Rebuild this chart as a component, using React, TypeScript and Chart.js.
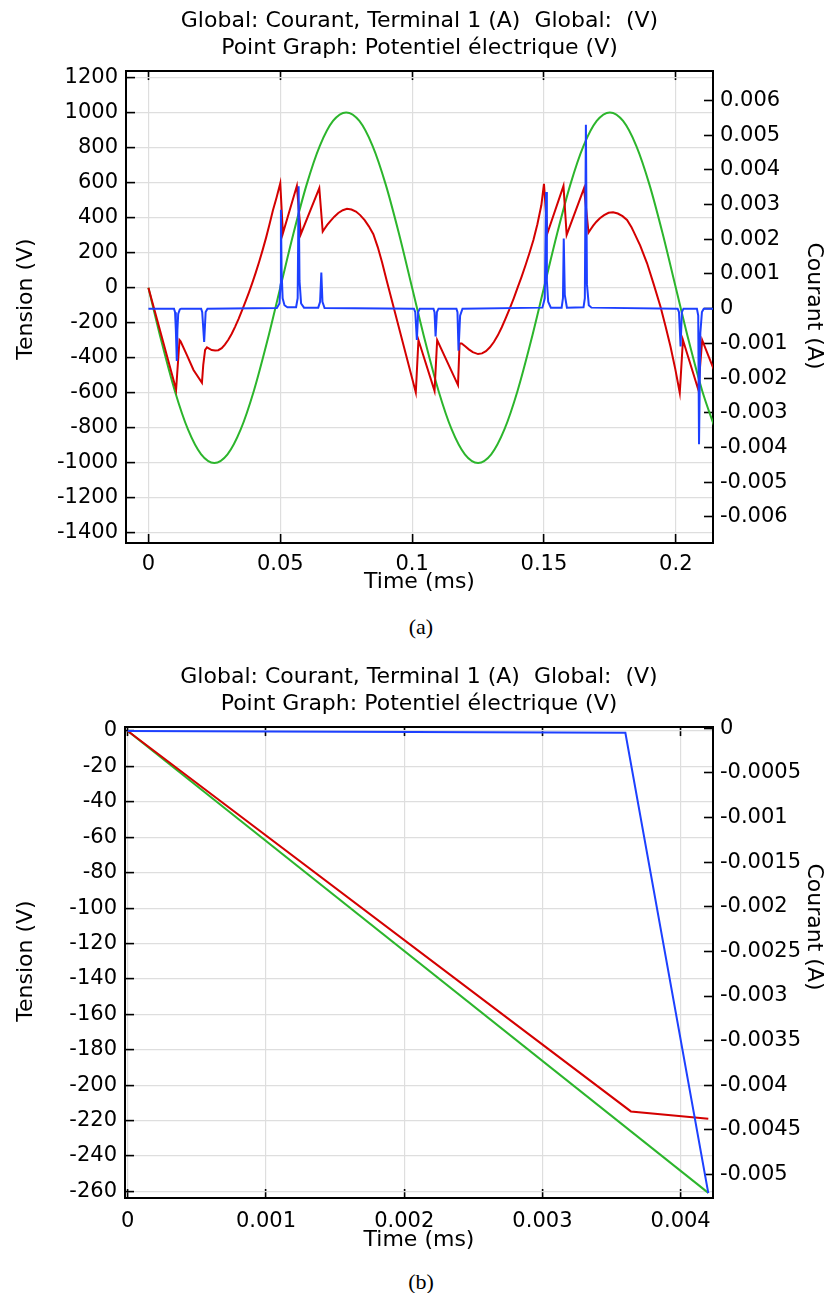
import React, { useEffect, useRef } from "react";
import { Chart, registerables } from "chart.js";

Chart.register(...registerables);

const FONT = "'DejaVu Sans', sans-serif";
const RED = "#d40000";
const GREEN = "#2cb52c";
const BLUE = "#1d40ff";
const GRID = "#dedede";

const TITLE_LINES = [
  "Global: Courant, Terminal 1 (A)  Global:  (V)",
  "Point Graph: Potentiel électrique (V)",
];
const X_TITLE = "Time (ms)";
const Y_LEFT_TITLE = "Tension (V)";
const Y_RIGHT_TITLE = "Courant (A)";

// ---------- Chart (a) ----------
const aGreenT = [
  0, 0.005, 0.01, 0.015, 0.02, 0.025, 0.03, 0.035, 0.04, 0.045, 0.05, 0.055, 0.06, 0.065, 0.07, 0.075,
  0.08, 0.085, 0.09, 0.095, 0.1, 0.105, 0.11, 0.115, 0.12, 0.125, 0.13, 0.135, 0.14, 0.145, 0.15, 0.155,
  0.16, 0.165, 0.17, 0.175, 0.18, 0.185, 0.19, 0.195, 0.2, 0.205, 0.21, 0.215,
];
const aGreenV = [
  0, -309, -588, -809, -951, -1000, -951, -809, -588, -309, 0, 309, 588, 809, 951, 1000,
  951, 809, 588, 309, 0, -309, -588, -809, -951, -1000, -951, -809, -588, -309, 0, 309,
  588, 809, 951, 1000, 951, 809, 588, 309, 0, -309, -588, -809,
];

const aRedT = [
  0, 0.0105, 0.0118, 0.0122, 0.0146, 0.0171, 0.0203, 0.0208, 0.0215, 0.0222, 0.024, 0.0253,
  0.0265, 0.0278, 0.029, 0.0303, 0.0316, 0.0329, 0.0342, 0.0355, 0.0368, 0.0381, 0.0394, 0.0407,
  0.042, 0.0433, 0.0446, 0.0459, 0.0472, 0.0486, 0.05,
  0.051, 0.0563, 0.0578, 0.0648, 0.0661,
  0.0668, 0.0678, 0.069, 0.0705, 0.072, 0.0737, 0.0753, 0.077, 0.0787, 0.0803, 0.082, 0.0836,
  0.0853, 0.087, 0.0886, 0.0903,
  0.1014, 0.1024, 0.1085, 0.1095, 0.1174, 0.118, 0.1188, 0.12, 0.1215, 0.123, 0.125,
  0.1265, 0.128, 0.1295, 0.131, 0.1325, 0.134, 0.1355, 0.137, 0.1385, 0.14, 0.1415, 0.143,
  0.1445, 0.146, 0.1475, 0.149, 0.15,
  0.1513, 0.1574, 0.1586, 0.1652, 0.1669,
  0.1676, 0.1686, 0.1698, 0.1712, 0.1728, 0.1745, 0.1762, 0.178, 0.1798, 0.1815, 0.1832, 0.184,
  0.1865, 0.1891, 0.1916, 0.1942, 0.1961, 0.198, 0.1998, 0.2015,
  0.2027, 0.2085, 0.21, 0.2144,
];
const aRedV = [
  0, -581, -299, -306, -385, -470, -543, -440, -355, -341, -356, -358,
  -357, -345, -325, -297, -263, -222, -178, -130, -80, -28, 27, 86,
  148, 214, 284, 360, 440, 515, 596,
  310, 581, 305, 568, 320,
  336, 358, 380, 405, 426, 442, 450, 446, 434, 414, 385, 350,
  305, 230, 145, 44,
  -598, -299, -589, -299, -556, -318, -318, -333, -352, -368, -379,
  -375, -362, -340, -310, -272, -226, -174, -120, -62, 0, 62, 128,
  198, 272, 362, 470, 592,
  310, 581, 301, 568, 314,
  330, 352, 375, 396, 414, 427, 430, 423, 408, 386, 345, 320,
  240, 139, 20, -109, -220, -337, -465, -600,
  -299, -581, -299, -467,
];

const aBlueT = [
  0, 0.0097, 0.0101, 0.0104, 0.01076, 0.011, 0.0113, 0.0119, 0.0124,
  0.02, 0.0204, 0.02114, 0.0217, 0.0224,
  0.0487, 0.0497, 0.0501, 0.05025, 0.0505, 0.0509, 0.0516, 0.0527,
  0.056, 0.0566, 0.05696, 0.0573, 0.0579, 0.059,
  0.0644, 0.0651, 0.06557, 0.066, 0.0668,
  0.1007, 0.1012, 0.1018, 0.1023, 0.1029,
  0.1081, 0.1085, 0.1089, 0.1094, 0.11,
  0.1168, 0.1172, 0.1176, 0.1182, 0.1191,
  0.1494, 0.1503, 0.1508, 0.1511, 0.1516, 0.1526,
  0.1567, 0.1572, 0.1575, 0.1579, 0.1587,
  0.165, 0.1655, 0.1659, 0.1663, 0.167, 0.168,
  0.2007, 0.2012, 0.2018, 0.2023, 0.2029,
  0.208, 0.2085, 0.2088, 0.2093, 0.2099, 0.2106, 0.2145,
];
const aBlueI = [
  0, 0, -0.0001, -0.0006, -0.00151, -0.0006, -0.00015, -0.00002, 0,
  0, -0.0001, -0.00096, -0.0001, 0,
  0.00002, 0.00015, 0.0007, 0.00285, 0.0011, 0.0003, 0.0001, 0.00004,
  0.00004, 0.0003, 0.00353, 0.0008, 0.00015, 0.00003,
  0.00003, 0.0002, 0.00104, 0.0002, 0.00002,
  0, -0.0001, -0.0009, -0.0001, 0,
  0, -0.0001, -0.0008, -0.0001, 0,
  0, -0.0001, -0.00121, -0.0002, 0,
  0.00003, 0.0003, 0.00336, 0.0008, 0.0002, 0.00003,
  0.00003, 0.0003, 0.00202, 0.0004, 0.00003,
  0.00004, 0.0003, 0.0053, 0.0007, 0.0001, 0.00003,
  0, -0.0001, -0.00109, -0.0001, 0,
  0, -0.0002, -0.00391, -0.0007, -0.0001, 0, 0,
];

// ---------- Chart (b) ----------
const bGreenT = [0, 0.0042];
const bGreenV = [0, -260.8];
const bRedT = [0, 0.00364, 0.0042];
const bRedV = [0, -214.8, -218.9];
const bBlueT = [0, 0.0036, 0.0042];
const bBlueI = [-0.00003, -0.00005, -0.00521];

const zip = (t: number[], v: number[]) => t.map((x, i) => ({ x, y: v[i] }));
const fmt = (v: any) => String(parseFloat(Number(v).toFixed(8)));

type Panel = {
  height: number;
  xMin: number; xMax: number; xStep: number;
  yMin: number; yMax: number; yStep: number;
  rMin: number; rMax: number; rStep: number;
  green: { x: number; y: number }[];
  red: { x: number; y: number }[];
  blue: { x: number; y: number }[];
  titleTop: number; titleBottom: number;
  leftW: number; rightW: number; xH: number;
  xLabelPad: number; xTitlePad: number;
};

function buildConfig(p: Panel): any {
  const tickFont = { family: FONT, size: 21 };
  const titleFont = { family: FONT, size: 22 };
  const border = { display: true, color: "#000", width: 2 };
  const gridTick = { tickColor: "#000", tickLength: -9, tickWidth: 1.6 };
  return {
    type: "line",
    data: {
      datasets: [
        { label: "Courant", data: p.blue, yAxisID: "y1", xAxisID: "x", borderColor: BLUE, borderWidth: 2, pointRadius: 0, tension: 0, order: 0 },
        { label: "Point Graph", data: p.red, yAxisID: "y", xAxisID: "x", borderColor: RED, borderWidth: 2, pointRadius: 0, tension: 0, order: 1 },
        { label: "Global", data: p.green, yAxisID: "y", xAxisID: "x", borderColor: GREEN, borderWidth: 2, pointRadius: 0, cubicInterpolationMode: "monotone", order: 2 },
      ],
    },
    options: {
      animation: false,
      responsive: false,
      devicePixelRatio: 1,
      layout: { padding: 0 },
      plugins: {
        legend: { display: false },
        tooltip: { enabled: false },
        title: {
          display: true,
          text: TITLE_LINES,
          fullSize: false,
          color: "#000",
          font: { family: FONT, size: 22, lineHeight: 1.26, weight: "normal" },
          padding: { top: p.titleTop, bottom: p.titleBottom },
        },
      },
      scales: {
        x: {
          type: "linear", position: "bottom", min: p.xMin, max: p.xMax,
          ticks: { stepSize: p.xStep, includeBounds: false, autoSkip: false, maxRotation: 0, callback: fmt, font: tickFont, color: "#000", padding: p.xLabelPad },
          grid: { color: GRID, lineWidth: 1.2, ...gridTick },
          border,
          title: { display: true, text: X_TITLE, color: "#000", font: titleFont, padding: { top: 0, bottom: p.xTitlePad } },
          afterFit: (s: any) => { s.height = p.xH; },
        },
        x2: {
          type: "linear", axis: "x", position: "top", min: p.xMin, max: p.xMax,
          ticks: { display: false, stepSize: p.xStep, includeBounds: false },
          grid: { drawOnChartArea: false, ...gridTick },
          border,
          afterFit: (s: any) => { s.height = 0; },
        },
        y: {
          type: "linear", position: "left", min: p.yMin, max: p.yMax,
          ticks: { stepSize: p.yStep, includeBounds: false, autoSkip: false, callback: fmt, font: tickFont, color: "#000", padding: 17 },
          grid: { color: GRID, lineWidth: 1.2, ...gridTick },
          border,
          afterFit: (s: any) => { s.width = p.leftW; },
        },
        y1: {
          type: "linear", position: "right", min: p.rMin, max: p.rMax,
          ticks: { stepSize: p.rStep, includeBounds: false, autoSkip: false, callback: fmt, font: tickFont, color: "#000", padding: 16 },
          grid: { drawOnChartArea: false, ...gridTick },
          border,
          afterFit: (s: any) => { s.width = p.rightW; },
        },
      },
    },
  };
}

const panelA: Panel = {
  height: 605,
  xMin: -0.0085, xMax: 0.2141, xStep: 0.05,
  yMin: -1457, yMax: 1236, yStep: 200,
  rMin: -0.006754, rMax: 0.006849, rStep: 0.001,
  green: zip(aGreenT, aGreenV),
  red: zip(aRedT, aRedV),
  blue: zip(aBlueT, aBlueI),
  titleTop: 7.1, titleBottom: 8.5,
  leftW: 126, rightW: 121, xH: 62,
  xLabelPad: 18.4, xTitlePad: 9.8,
};

const panelB: Panel = {
  height: 605,
  xMin: -0.00002, xMax: 0.004234, xStep: 0.001,
  yMin: -263.7, yMax: 2.26, yStep: 20,
  rMin: -0.005264, rMax: 0.0000146, rStep: 0.0005,
  green: zip(bGreenT, bGreenV),
  red: zip(bRedT, bRedV),
  blue: zip(bBlueT, bBlueI),
  titleTop: 15.1, titleBottom: 8.5,
  leftW: 125, rightW: 121, xH: 55,
  xLabelPad: 20.4, xTitlePad: 0,
};

function ChartCanvas({ panel, top }: { panel: Panel; top: number }) {
  const ref = useRef<HTMLCanvasElement | null>(null);
  useEffect(() => {
    if (!ref.current) return;
    const chart = new Chart(ref.current, buildConfig(panel));
    return () => chart.destroy();
  }, []);
  return (
    <canvas
      ref={ref}
      width={834}
      height={panel.height}
      style={{ position: "absolute", left: 0, top, width: 834, height: panel.height, display: "block" }}
    />
  );
}

function AxisTitle({ text, cx, cy, angle }: { text: string; cx: number; cy: number; angle: number }) {
  return (
    <div
      style={{
        position: "absolute",
        left: cx - 110,
        top: cy - 15,
        width: 220,
        height: 30,
        lineHeight: "30px",
        textAlign: "center",
        fontFamily: FONT,
        fontSize: 22,
        color: "#000",
        whiteSpace: "nowrap",
        transform: `rotate(${angle}deg)`,
      }}
    >
      {text}
    </div>
  );
}

const captionStyle = (top: number): React.CSSProperties => ({
  position: "absolute",
  left: 0,
  top,
  width: 842,
  textAlign: "center",
  fontFamily: "'Liberation Serif', 'DejaVu Serif', serif",
  fontSize: 22,
  lineHeight: "24px",
  color: "#000",
});

export default function App() {
  return (
    <div style={{ position: "absolute", left: 0, top: 0, width: 834, height: 1293, background: "#fff", overflow: "hidden" }}>
      <ChartCanvas panel={panelA} top={0} />
      <AxisTitle text={Y_LEFT_TITLE} cx={25} cy={299} angle={-90} />
      <AxisTitle text={Y_RIGHT_TITLE} cx={815} cy={306} angle={90} />
      <div style={captionStyle(615)}>(a)</div>
      <ChartCanvas panel={panelB} top={648} />
      <AxisTitle text={Y_LEFT_TITLE} cx={25} cy={961} angle={-90} />
      <AxisTitle text={Y_RIGHT_TITLE} cx={815} cy={927} angle={90} />
      <div style={captionStyle(1270)}>(b)</div>
    </div>
  );
}
